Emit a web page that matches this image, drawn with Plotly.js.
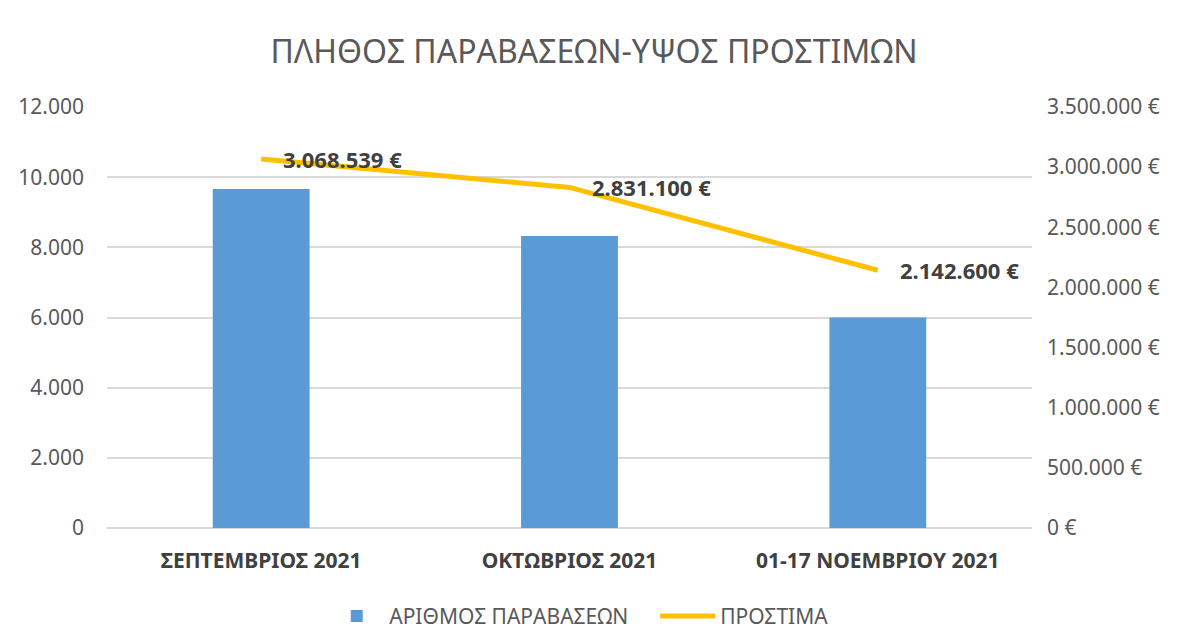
<!DOCTYPE html>
<html>
<head>
<meta charset="utf-8">
<script src="https://cdn.plot.ly/plotly-3.0.1.min.js"></script>
<style>
  html, body { margin: 0; padding: 0; background: #ffffff; }
  #chart { width: 1188px; height: 644px; }
</style>
</head>
<body>
<div id="chart"></div>
<script>
// Chart data
const months = ["ΣΕΠΤΕΜΒΡΙΟΣ 2021", "ΟΚΤΩΒΡΙΟΣ 2021", "01-17 ΝΟΕΜΒΡΙΟΥ 2021"];
const violations = [9660, 8320, 6000];
const fines = [3068539, 2831100, 2142600];
const fineLabels = ["3.068.539 €", "2.831.100 €", "2.142.600 €"];

const textFont = "Noto Sans, Open Sans, sans-serif";

// Bars: number of violations (left axis)
let barTrace = {
    x: months,
    y: violations,
    name: "ΑΡΙΘΜΟΣ ΠΑΡΑΒΑΣΕΩΝ\u00a0\u00a0\u00a0\u00a0",
    type: "bar",
    marker: { color: "#5B9BD5" },
    hoverinfo: "x+y"
};

// Line: fines (right axis)
let lineTrace = {
    x: months,
    y: fines,
    name: "ΠΡΟΣΤΙΜΑ",
    type: "scatter",
    mode: "lines",
    yaxis: "y2",
    line: { color: "#FFC000", width: 5 },
    hoverinfo: "x+y"
};

// Data labels next to each line point
let labels = months.map((m, i) => ({
    x: m,
    y: fines[i],
    xref: "x",
    yref: "y2",
    text: "<b>" + fineLabels[i] + "</b>",
    showarrow: false,
    xanchor: "left",
    yanchor: "middle",
    xshift: 20,
    yshift: 0,
    font: { family: textFont, size: 22, color: "#404040" }
}));

let layout = {
    width: 1188,
    height: 644,
    margin: { l: 107, r: 156, t: 107, b: 116, autoexpand: false },
    paper_bgcolor: "#ffffff",
    plot_bgcolor: "#ffffff",
    separators: ",.",
    bargap: 0.686,
    showlegend: true,
    title: {
        text: "ΠΛΗΘΟΣ ΠΑΡΑΒΑΣΕΩΝ-ΥΨΟΣ ΠΡΟΣΤΙΜΩΝ",
        font: { family: textFont, size: 32, color: "#595959" },
        x: 0.5,
        xanchor: "center",
        y: 0.92,
        yanchor: "middle"
    },
    xaxis: {
        type: "category",
        automargin: false,
        showgrid: false,
        showline: false,
        ticks: "",
        ticklabelstandoff: 18,
        tickfont: { family: textFont, size: 21, color: "#404040", weight: "bold" },
        fixedrange: true
    },
    yaxis: {
        range: [0, 12000],
        dtick: 2000,
        tickformat: ",d",
        automargin: false,
        gridcolor: "#D9D9D9",
        gridwidth: 1.5,
        zeroline: true,
        zerolinecolor: "#D9D9D9",
        zerolinewidth: 1.5,
        showline: false,
        ticks: "",
        ticklabelstandoff: 22,
        tickfont: { family: textFont, size: 21, color: "#595959" },
        fixedrange: true
    },
    yaxis2: {
        overlaying: "y",
        side: "right",
        range: [0, 3500000],
        dtick: 500000,
        tickformat: ",d",
        ticksuffix: " €",
        automargin: false,
        showgrid: false,
        zeroline: false,
        showline: false,
        ticks: "",
        ticklabelstandoff: 14,
        tickfont: { family: textFont, size: 21, color: "#595959" },
        fixedrange: true
    },
    legend: {
        orientation: "h",
        x: 0.51,
        xanchor: "center",
        y: -0.21,
        yanchor: "middle",
        font: { family: textFont, size: 21, color: "#595959" },
        itemwidth: 55
    },
    annotations: labels
};

Plotly.newPlot("chart", [barTrace, lineTrace], layout, { displayModeBar: false });
</script>
</body>
</html>
